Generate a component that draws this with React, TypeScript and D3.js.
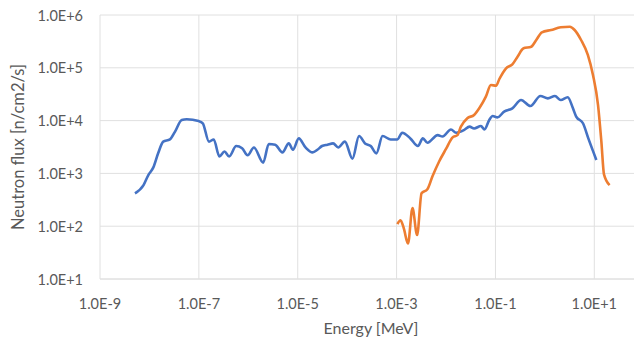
import React from "react";
import * as d3 from "d3";

// blue series (full spectrum)
const blueEnergy = [
  5.1e-9, 7.6e-9, 9.5e-9, 1.2e-8, 1.5e-8, 1.9e-8, 2.6e-8, 3.3e-8, 4.5e-8, 5.7e-8,
  9.9e-8, 1.2e-7, 1.6e-7, 2.0e-7, 2.6e-7, 3.3e-7, 4.1e-7, 5.7e-7, 7.5e-7, 9.7e-7,
  1.3e-6, 2.0e-6, 2.6e-6, 3.5e-6, 4.9e-6, 6.6e-6, 8.0e-6, 1.05e-5, 1.44e-5, 2.0e-5,
  2.5e-5, 3.1e-5, 4.0e-5, 5.2e-5, 6.6e-5, 9.0e-5, 1.28e-4, 1.74e-4, 2.3e-4, 3.0e-4,
  3.9e-4, 5.2e-4, 7.6e-4, 1.04e-3, 1.3e-3, 1.9e-3, 2.7e-3, 3.4e-3, 4.2e-3, 6.8e-3,
  8.5e-3, 1.26e-2, 1.6e-2, 2.3e-2, 3.0e-2, 3.7e-2, 5.1e-2, 6.0e-2, 7.5e-2, 8.8e-2,
  1.1e-1, 1.5e-1, 2.2e-1, 3.3e-1, 5.1e-1, 8.1e-1, 1.15, 1.6, 2.1, 2.9,
  3.7, 4.3, 5.9, 7.7, 11,
];
const blueFlux = [
  420, 600, 930, 1300, 2400, 4000, 4400, 6200, 10300, 10600,
  9800, 8900, 4000, 4400, 2100, 2600, 2100, 3300, 3000, 2200,
  3100, 1600, 3600, 3500, 2500, 3700, 2800, 4600, 3100, 2500,
  2800, 3300, 3500, 3700, 3100, 4000, 1900, 5100, 3700, 3300,
  2400, 5100, 4400, 4400, 5900, 4600, 3300, 4600, 3800, 5300,
  5000, 6800, 5900, 6600, 7700, 7100, 7900, 6800, 10300, 12200,
  11500, 14800, 17100, 24500, 18900, 29200, 26400, 29200, 24500, 27600,
  17100, 11900, 8900, 4400, 1800,
];

// orange series (fast neutrons)
const orangeEnergy = [
  1.04e-3, 1.2e-3, 1.4e-3, 1.7e-3, 2.1e-3, 2.6e-3, 3.2e-3, 4.2e-3, 5.3e-3, 7.3e-3,
  1.0e-2, 1.36e-2, 1.7e-2, 2.0e-2, 2.7e-2, 3.7e-2, 4.7e-2, 6.4e-2, 8.1e-2, 1.03e-1,
  1.2e-1, 1.64e-1, 2.2e-1, 2.8e-1, 3.7e-1, 5.3e-1, 6.7e-1, 8.7e-1, 1.34, 2.1,
  3.2, 4.0, 5.4, 7.4, 9.4, 11.9, 13.9, 15.7, 20.4,
];
const orangeFlux = [
  110, 130, 91, 47, 220, 68, 420, 500, 870, 1700,
  2900, 4800, 5300, 7700, 11100, 12800, 17100, 28400, 47200, 45800,
  61400, 98000, 116000, 162000, 234000, 251000, 336000, 470000, 520000, 585000,
  600000, 520000, 336000, 175000, 73000, 19700, 4000, 960, 600,
];

const xTicks = [1e-9, 1e-7, 1e-5, 1e-3, 1e-1, 1e1];
const xTickLabels = ["1.0E-9", "1.0E-7", "1.0E-5", "1.0E-3", "1.0E-1", "1.0E+1"];
const yTicks = [1e1, 1e2, 1e3, 1e4, 1e5, 1e6];
const yTickLabels = ["1.0E+1", "1.0E+2", "1.0E+3", "1.0E+4", "1.0E+5", "1.0E+6"];

const W = 634;
const H = 338;
const left = 100;
const right = 634;
const top = 15;
const bottom = 279;
const font = "Lato, 'Open Sans', sans-serif";
const textColor = "#595959";

export default function App() {
  const x = d3.scaleLog().domain([1e-9, 1e1]).range([left, 594.3]);
  const y = d3.scaleLog().domain([1e1, 1e6]).range([bottom, top]);

  const line = d3
    .line<[number, number]>()
    .x((d) => x(d[0]))
    .y((d) => y(d[1]))
    .curve(d3.curveMonotoneX);

  const blue = blueEnergy.map((e, i) => [e, blueFlux[i]] as [number, number]);
  const orange = orangeEnergy.map((e, i) => [e, orangeFlux[i]] as [number, number]);

  return (
    <svg
      width={W}
      height={H}
      style={{ position: "absolute", top: 0, left: 0, background: "#fff" }}
    >
      {yTicks.map((t, i) => (
        <g key={"y" + i}>
          <line
            x1={left}
            x2={right}
            y1={y(t)}
            y2={y(t)}
            stroke={i === 0 ? "#d0d0d0" : "#e0e0e0"}
            strokeWidth={1}
          />
          <text
            x={83}
            y={y(t)}
            textAnchor="end"
            dominantBaseline="central"
            fontFamily={font}
            fontSize={14.5}
            fill={textColor}
          >
            {yTickLabels[i]}
          </text>
        </g>
      ))}
      {xTicks.map((t, i) => (
        <g key={"x" + i}>
          <line
            x1={x(t)}
            x2={x(t)}
            y1={top}
            y2={bottom}
            stroke="#e0e0e0"
            strokeWidth={1}
          />
          <text
            x={x(t)}
            y={303}
            textAnchor="middle"
            dominantBaseline="central"
            fontFamily={font}
            fontSize={14.5}
            fill={textColor}
          >
            {xTickLabels[i]}
          </text>
        </g>
      ))}
      <path d={line(blue) ?? ""} fill="none" stroke="#4472C4" strokeWidth={2.6} strokeLinejoin="round" />
      <path d={line(orange) ?? ""} fill="none" stroke="#ED7D31" strokeWidth={2.6} strokeLinejoin="round" />
      <text
        x={371}
        y={327}
        textAnchor="middle"
        dominantBaseline="central"
        fontFamily={font}
        fontSize={16}
        fill={textColor}
      >
        Energy [MeV]
      </text>
      <text
        transform={`translate(18,${(top + bottom) / 2}) rotate(-90)`}
        textAnchor="middle"
        dominantBaseline="central"
        fontFamily={font}
        fontSize={16.5}
        fill={textColor}
      >
        Neutron flux [n/cm2/s]
      </text>
    </svg>
  );
}
